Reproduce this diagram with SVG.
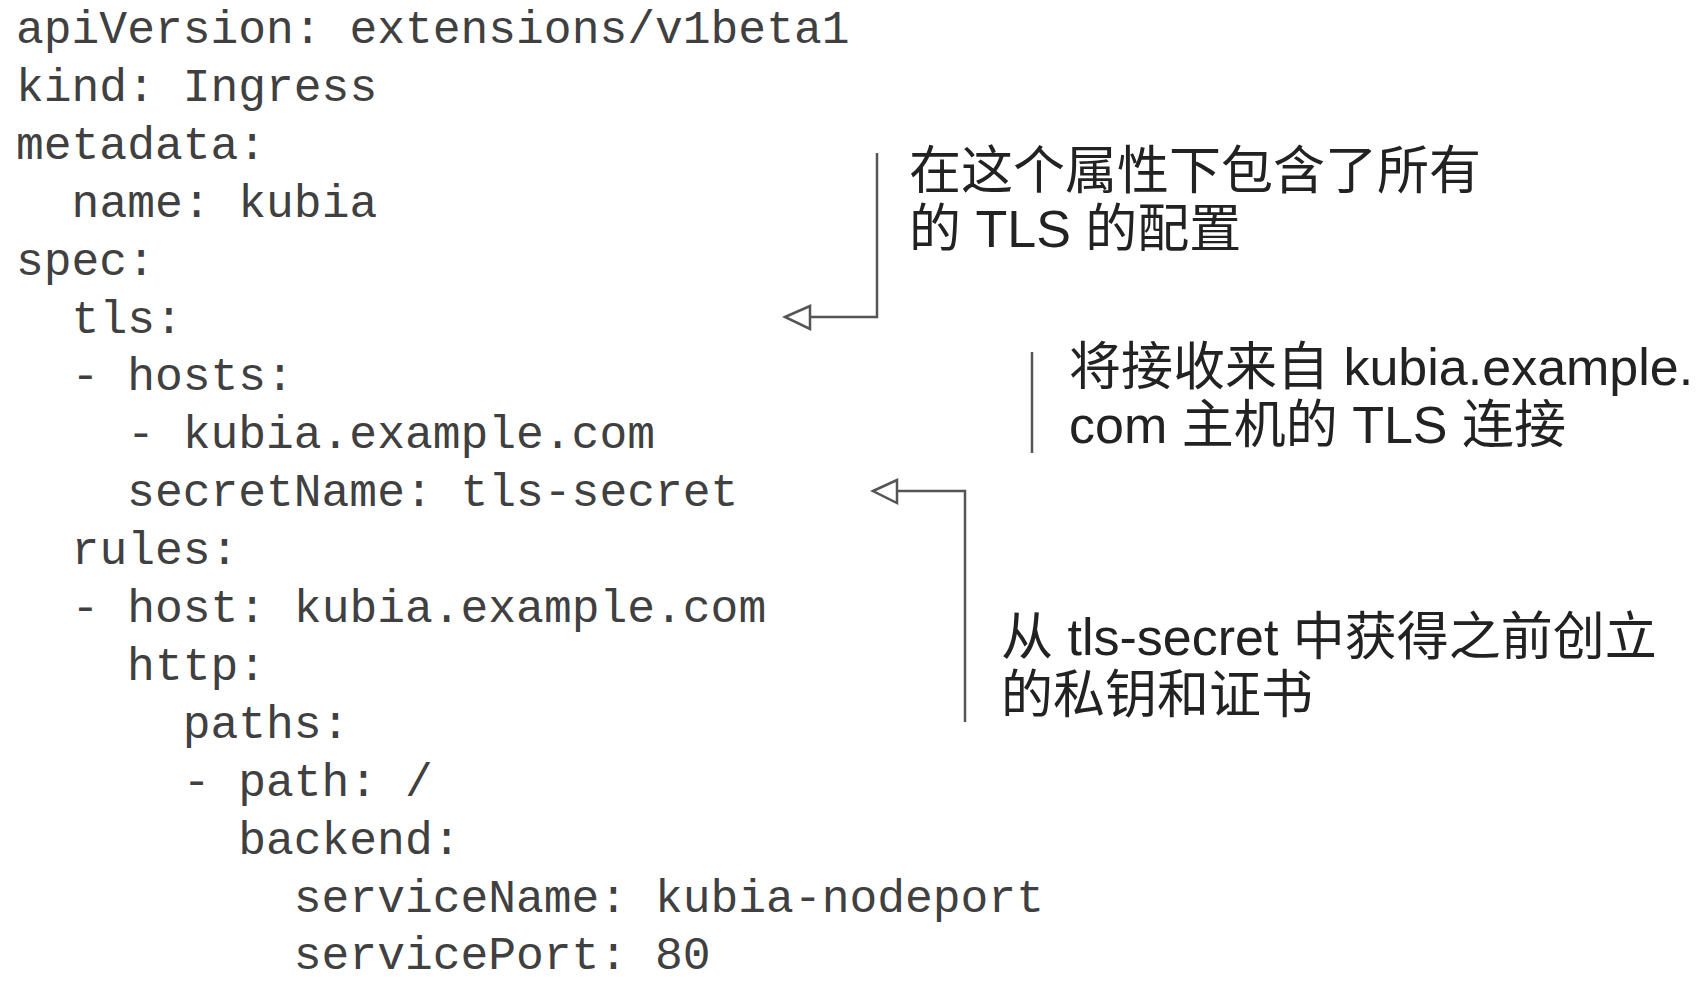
<svg xmlns="http://www.w3.org/2000/svg" width="1698" height="986" viewBox="0 0 1698 986">
<style>
.code{font-family:"Liberation Mono","DejaVu Sans Mono",monospace;font-size:46.3px;fill:#404040}
.note{font-family:"Liberation Sans","Noto Sans CJK SC",sans-serif;font-size:52px;fill:#222}
.conn{fill:none;stroke:#555;stroke-width:2.5}
.head{fill:#fff;stroke:#555;stroke-width:2.5;stroke-linejoin:miter}
</style>
<rect width="1698" height="986" fill="#fff"/>
<g id="code" class="code">
<text x="16" y="43">apiVersion: extensions/v1beta1</text>
<text x="16" y="100.9">kind: Ingress</text>
<text x="16" y="158.8">metadata:</text>
<text x="71.6" y="216.7">name: kubia</text>
<text x="16" y="274.6">spec:</text>
<text x="71.6" y="332.5">tls:</text>
<text x="71.6" y="390.4">- hosts:</text>
<text x="127.1" y="448.3">- kubia.example.com</text>
<text x="127.1" y="506.2">secretName: tls-secret</text>
<text x="71.6" y="564.1">rules:</text>
<text x="71.6" y="622">- host: kubia.example.com</text>
<text x="127.1" y="679.9">http:</text>
<text x="182.7" y="737.8">paths:</text>
<text x="182.7" y="795.7">- path: /</text>
<text x="238.2" y="853.6">backend:</text>
<text x="293.8" y="911.5">serviceName: kubia-nodeport</text>
<text x="293.8" y="969.4">servicePort: 80</text>
</g>
<g id="note-tls">
<text class="note" x="909" y="189">在这个属性下包含了所有</text>
<text class="note" x="909" y="247">的 TLS 的配置</text>
</g>
<g id="note-hosts">
<line class="conn" x1="1032" y1="352" x2="1032" y2="453"/>
<text class="note" x="1069" y="385">将接收来自 kubia.example.</text>
<text class="note" x="1069" y="443">com 主机的 TLS 连接</text>
</g>
<g id="note-secret">
<text class="note" x="1001" y="655">从 tls-secret 中获得之前创立</text>
<text class="note" x="1001" y="713">的私钥和证书</text>
</g>
<g id="connectors">
<polyline class="conn" points="877,153 877,317 810,317"/>
<polygon class="head" points="785,317 810,306 810,329"/>
<polyline class="conn" points="965,722 965,491 897,491"/>
<polygon class="head" points="873,491 897,480 897,503"/>
</g>
</svg>
